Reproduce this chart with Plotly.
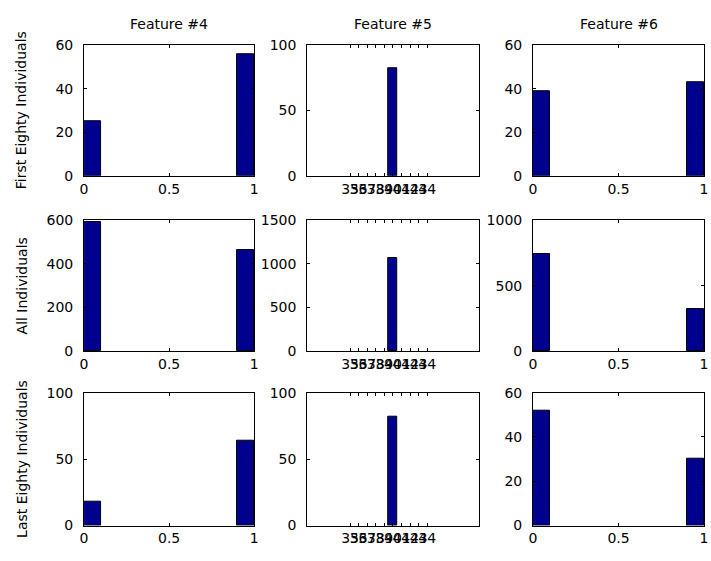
import plotly.graph_objects as go

# Histogram counts per group (rows) and feature (columns)
row_labels = ["First Eighty Individuals", "All Individuals", "Last Eighty Individuals"]
feature_titles = ["Feature #4", "Feature #5", "Feature #6"]

# Binary features: 10 bins on [0, 1]; only the two outer bins are populated
binary_centers = [0.05, 0.95]
feature4_counts = [[25, 56], [590, 464], [18, 64]]
feature6_counts = [[39, 43], [740, 325], [52, 30]]

# Feature #5 takes a single value in every group
feature5_center = [40]
feature5_counts = [[82], [1060], [82]]
feature5_ticks = [35, 36, 37, 38, 39, 40, 41, 42, 43, 44]

# Y-axis limits and ticks per panel [row][col]
y_max = [[60, 100, 60], [600, 1500, 1000], [100, 100, 60]]
y_step = [[20, 50, 20], [200, 500, 500], [50, 50, 20]]

BAR = "#00008F"
FONT = dict(family="DejaVu Sans", size=14, color="#000000")

x_domains = [(0.1139, 0.3558), (0.4313, 0.6751), (0.7525, 0.9958)]
y_domains = [(0.6922, 0.9317), (0.3702, 0.6109), (0.0504, 0.2941)]

fig = go.Figure()
layout = dict(
    width=711, height=561,
    margin=dict(l=0, r=0, t=0, b=0),
    paper_bgcolor="white", plot_bgcolor="white",
    showlegend=False, font=FONT, bargap=0,
)

annotations = []
for r in range(3):
    for c in range(3):
        idx = r * 3 + c + 1
        xa = "x" if idx == 1 else f"x{idx}"
        ya = "y" if idx == 1 else f"y{idx}"
        if c == 0:
            xs, ys, w = binary_centers, feature4_counts[r], 0.1
        elif c == 1:
            xs, ys, w = feature5_center, feature5_counts[r], 1.0
        else:
            xs, ys, w = binary_centers, feature6_counts[r], 0.1
        fig.add_trace(go.Bar(
            x=xs, y=ys, width=w, xaxis=xa, yaxis=ya,
            marker=dict(color=BAR, line=dict(color="black", width=1)),
            hoverinfo="x+y",
        ))

        common = dict(
            showline=True, linecolor="black", linewidth=1, mirror="ticks",
            ticks="inside", ticklen=3, tickcolor="black", showgrid=False,
            zeroline=False, tickfont=FONT, tickangle=0,
        )
        if c == 1:
            xaxis = dict(range=[30, 50], tickvals=feature5_ticks,
                         ticktext=[str(v) for v in feature5_ticks], **common)
        else:
            xaxis = dict(range=[0, 1], tickvals=[0, 0.5, 1],
                         ticktext=["0", "0.5", "1"], **common)
        xaxis.update(domain=list(x_domains[c]), anchor=ya, ticklabelstandoff=0)
        yt = list(range(0, y_max[r][c] + 1, y_step[r][c]))
        yaxis = dict(range=[0, y_max[r][c]], tickvals=yt,
                     ticktext=[str(v) for v in yt], **common)
        yaxis.update(domain=list(y_domains[r]), anchor=xa, ticklabelstandoff=7)
        layout["xaxis" if idx == 1 else f"xaxis{idx}"] = xaxis
        layout["yaxis" if idx == 1 else f"yaxis{idx}"] = yaxis

for c in range(3):
    x0, x1 = x_domains[c]
    annotations.append(dict(
        text=feature_titles[c], xref="paper", yref="paper",
        x=(x0 + x1) / 2, y=y_domains[0][1], yshift=11,
        xanchor="center", yanchor="bottom", showarrow=False, font=FONT,
    ))
for r in range(3):
    y0, y1 = y_domains[r]
    annotations.append(dict(
        text=row_labels[r], xref="paper", yref="paper",
        x=18 / 711, y=(y0 + y1) / 2, textangle=-90,
        xanchor="center", yanchor="middle", showarrow=False, font=FONT,
    ))

layout["annotations"] = annotations
fig.update_layout(**layout)
fig.write_html("out.html")
